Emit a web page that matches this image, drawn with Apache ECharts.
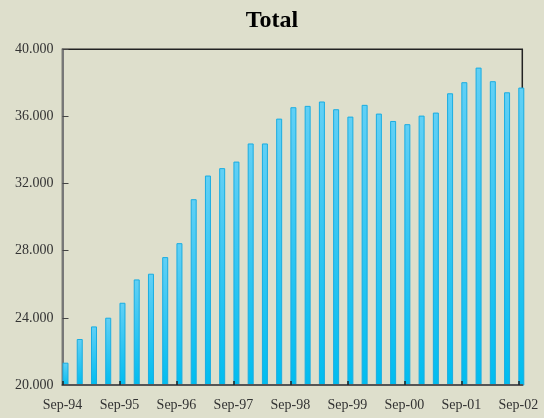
<!DOCTYPE html>
<html>
<head>
<meta charset="utf-8">
<script src="https://cdn.jsdelivr.net/npm/echarts@6/dist/echarts.min.js"></script>
<style>
html,body{margin:0;padding:0;background:#dedfcc;}
#chart{width:544px;height:418px;}
</style>
</head>
<body>
<div id="chart"></div>
<script>
const categories = ['Sep-94','Dec-94','Mar-95','Jun-95','Sep-95','Dec-95','Mar-96','Jun-96','Sep-96','Dec-96','Mar-97','Jun-97','Sep-97','Dec-97','Mar-98','Jun-98','Sep-98','Dec-98','Mar-99','Jun-99','Sep-99','Dec-99','Mar-00','Jun-00','Sep-00','Dec-00','Mar-01','Jun-01','Sep-01','Dec-01','Mar-02','Jun-02','Sep-02'];
const totals = [21330,22740,23490,24010,24900,26290,26630,27620,28450,31070,32480,32920,33310,34390,34390,35870,36550,36630,36890,36430,35990,36690,36170,35730,35540,36050,36230,37380,38040,38910,38100,37440,37720];
const yTicks = [20000,24000,28000,32000,36000,40000];

const points = totals.map((v, i) => [i, v]);
const labelIdx = categories.map((c, i) => i).filter(i => i % 4 === 0);
const fmtThousands = v => String(v).replace(/\B(?=(\d{3})+(?!\d))/g, '.');

const chart = echarts.init(document.getElementById('chart'));
chart.setOption({
  backgroundColor: '#dedfcc',
  animation: false,
  title: {
    text: 'Total',
    left: 'center',
    top: 4,
    textStyle: { fontFamily: 'Liberation Serif', fontWeight: 'bold', fontSize: 24, color: '#000' }
  },
  grid: {
    left: 62.5, right: 21.7, top: 49.3, bottom: 33,
    show: true, borderColor: '#222', borderWidth: 1.5, backgroundColor: 'transparent'
  },
  xAxis: {
    type: 'value',
    z: 5,
    min: 0, max: 32.28, interval: 4,
    splitLine: { show: false },
    axisLine: { show: true, lineStyle: { color: '#555', width: 2 } },
    axisTick: { show: true, inside: true, length: 4, customValues: labelIdx, lineStyle: { color: '#222', width: 1.5 } },
    axisLabel: {
      margin: 13,
      customValues: labelIdx,
      fontFamily: 'Liberation Serif', fontSize: 14, color: '#333',
      formatter: v => categories[Math.round(v)] || ''
    }
  },
  yAxis: {
    type: 'value',
    min: yTicks[0], max: yTicks[yTicks.length - 1], interval: 4000,
    splitLine: { show: false },
    axisLine: { show: true, lineStyle: { color: '#777', width: 2 } },
    axisTick: { show: true, inside: true, length: 6, lineStyle: { color: '#444', width: 1 } },
    axisLabel: {
      margin: 9,
      fontFamily: 'Liberation Serif', fontSize: 14, color: '#333',
      formatter: v => fmtThousands(v)
    }
  },
  series: [
    {
      type: 'bar', name: 'spacer', data: points, barWidth: 6, barGap: 0,
      silent: true, itemStyle: { color: 'rgba(0,0,0,0)' }
    },
    {
      type: 'bar', name: 'Total', data: points, barWidth: 6, barGap: 0,
      itemStyle: {
        color: new echarts.graphic.LinearGradient(0, 0, 0, 1, [
          { offset: 0, color: '#62d0f5' },
          { offset: 1, color: '#00bdef' }
        ]),
        borderColor: '#19ade2', borderWidth: 1
      }
    }
  ]
});
</script>
</body>
</html>
